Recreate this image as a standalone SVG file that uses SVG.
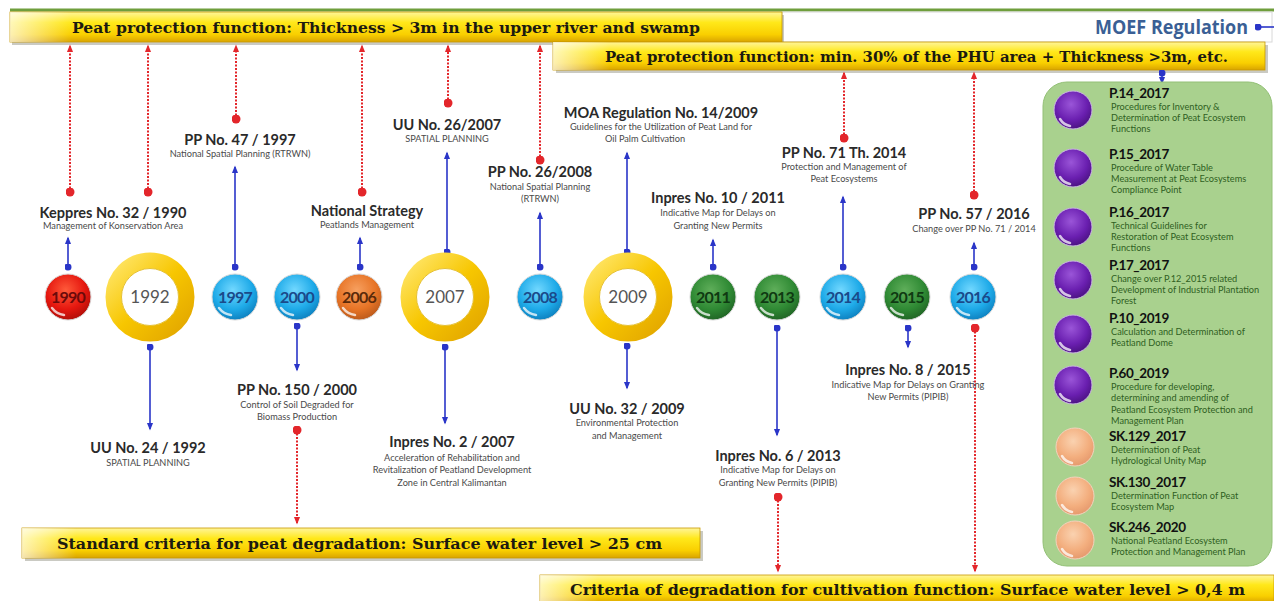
<svg xmlns="http://www.w3.org/2000/svg" width="1274" height="601" viewBox="0 0 1274 601">
<style>
.bt{font-family:"DejaVu Serif","Liberation Serif",serif;font-weight:bold;font-size:14px;fill:#1c1a10}
.yr{font-family:Lato,"Open Sans",sans-serif;font-size:16px;font-weight:bold;text-anchor:middle;letter-spacing:-0.8px}
.yr2{font-family:Lato,"Open Sans",sans-serif;font-size:17px;text-anchor:middle;fill:#555}
.t{font-family:Lato,"Liberation Sans",sans-serif;font-weight:bold;font-size:14.5px;fill:#2a2a2a;text-anchor:middle}
.s{font-family:Lato,"Liberation Sans",sans-serif;font-size:9.2px;fill:#4a4a4a;text-anchor:middle}
.pt{font-family:Lato,"Liberation Sans",sans-serif;font-weight:bold;font-size:13.5px;fill:#111;letter-spacing:-0.4px}
.ps{font-family:Lato,"Liberation Sans",sans-serif;font-size:9.2px;fill:#2f5f22}
.red{stroke:#e3262b;stroke-width:2;stroke-dasharray:2 1.5;fill:none;marker-start:url(#rDot);marker-end:url(#rArr)}
.blue{stroke:#2a35c8;stroke-width:1.6;fill:none;marker-start:url(#bDot);marker-end:url(#bArr)}
.shadow{fill:#8a8a7a;opacity:0.45}
.banner{fill:url(#gBanner);stroke:#c89a00;stroke-width:0.8}
.hl{fill:none;stroke:#fff;stroke-width:2.5;stroke-linecap:round;opacity:0.75}
.ring{fill:none;stroke:url(#gRing);stroke-width:16}
.rin{fill:#fff;stroke:#e6c030;stroke-width:1}
</style>
<defs>
<linearGradient id="gBanner" x1="0" y1="0" x2="0" y2="1">
<stop offset="0" stop-color="#fff59a"/><stop offset="0.35" stop-color="#ffe81a"/><stop offset="0.75" stop-color="#f9cf00"/><stop offset="1" stop-color="#d9a400"/>
</linearGradient>
<linearGradient id="gLeft" x1="0" y1="0" x2="1" y2="0">
<stop offset="0" stop-color="#fff" stop-opacity="0.7"/><stop offset="0.08" stop-color="#fff" stop-opacity="0"/>
</linearGradient>
<linearGradient id="gRing" x1="0" y1="0" x2="1" y2="1">
<stop offset="0" stop-color="#ffe66a"/><stop offset="0.5" stop-color="#f7c600"/><stop offset="1" stop-color="#e2a600"/>
</linearGradient>
<radialGradient id="gRed" cx="0.45" cy="0.35" r="0.7"><stop offset="0" stop-color="#ff5a3a"/><stop offset="0.6" stop-color="#e5170f"/><stop offset="1" stop-color="#a80d08"/></radialGradient>
<radialGradient id="gBlue" cx="0.45" cy="0.35" r="0.7"><stop offset="0" stop-color="#72d8ff"/><stop offset="0.6" stop-color="#1eaae8"/><stop offset="1" stop-color="#0b79b8"/></radialGradient>
<radialGradient id="gGreen" cx="0.45" cy="0.35" r="0.7"><stop offset="0" stop-color="#5fae5a"/><stop offset="0.6" stop-color="#2f8a34"/><stop offset="1" stop-color="#1e5e22"/></radialGradient>
<radialGradient id="gOrange" cx="0.45" cy="0.35" r="0.7"><stop offset="0" stop-color="#f7a060"/><stop offset="0.6" stop-color="#e77426"/><stop offset="1" stop-color="#b4561a"/></radialGradient>
<radialGradient id="gPurple" cx="0.45" cy="0.35" r="0.7"><stop offset="0" stop-color="#9a55d8"/><stop offset="0.6" stop-color="#6a1fb0"/><stop offset="1" stop-color="#46107a"/></radialGradient>
<radialGradient id="gPeach" cx="0.45" cy="0.35" r="0.7"><stop offset="0" stop-color="#fad2b0"/><stop offset="0.6" stop-color="#f3ae7e"/><stop offset="1" stop-color="#e3956a"/></radialGradient>
<marker id="bArr" viewBox="0 0 10 10" refX="8" refY="5" markerWidth="8" markerHeight="8" orient="auto" markerUnits="userSpaceOnUse"><path d="M0,1 L10,5 L0,9 z" fill="#2a35c8"/></marker>
<marker id="bDot" viewBox="0 0 10 10" refX="5" refY="5" markerWidth="7" markerHeight="7" markerUnits="userSpaceOnUse"><circle cx="5" cy="5" r="5" fill="#2a35c8"/></marker>
<marker id="rArr" viewBox="0 0 10 10" refX="8" refY="5" markerWidth="8" markerHeight="8" orient="auto" markerUnits="userSpaceOnUse"><path d="M0,1 L10,5 L0,9 z" fill="#e3262b"/></marker>
<marker id="rDot" viewBox="0 0 10 10" refX="5" refY="5" markerWidth="9" markerHeight="9" markerUnits="userSpaceOnUse"><circle cx="5" cy="5" r="5" fill="#e3262b"/></marker>
</defs>
<rect width="1274" height="601" fill="#fff"/>

<g id="header">
<line x1="10" y1="10" x2="1274" y2="10" stroke="#6f9e3c" stroke-width="3"/>
<rect x="782" y="12" width="490" height="30" fill="#fff" stroke="#d8d8d8" stroke-width="1"/>
<text x="1095" y="34" font-family="'Open Sans',Lato,sans-serif" font-weight="bold" font-size="20" fill="#3a5f95" textLength="153" lengthAdjust="spacingAndGlyphs">MOEF Regulation</text>
</g>

<g id="banner-top1">
<rect class="shadow" x="12" y="15" width="772" height="30"/>
<rect class="banner" x="10" y="12" width="772" height="30"/>
<rect x="10" y="12" width="772" height="30" fill="url(#gLeft)"/>
<text class="bt" x="72" y="33" textLength="628" lengthAdjust="spacingAndGlyphs">Peat protection function: Thickness &gt; 3m in the upper river and swamp</text>
</g>
<g id="banner-top2">
<rect class="shadow" x="556" y="45" width="712" height="28"/>
<rect class="banner" x="553" y="42" width="712" height="28"/>
<rect x="553" y="42" width="712" height="28" fill="url(#gLeft)"/>
<text class="bt" x="605" y="62" textLength="623" lengthAdjust="spacingAndGlyphs">Peat protection function: min. 30% of the PHU area + Thickness &gt;3m, etc.</text>
</g>
<g id="banner-bottom1">
<rect class="shadow" x="25" y="531" width="678" height="30"/>
<rect class="banner" x="22" y="528" width="678" height="30"/>
<rect x="22" y="528" width="678" height="30" fill="url(#gLeft)"/>
<text class="bt" x="57" y="549" textLength="605" lengthAdjust="spacingAndGlyphs">Standard criteria for peat degradation: Surface water level &gt; 25 cm</text>
</g>
<g id="banner-bottom2">
<rect class="banner" x="540" y="575" width="734" height="28"/>
<rect x="540" y="575" width="734" height="28" fill="url(#gLeft)"/>
<text class="bt" x="570" y="595" textLength="675" lengthAdjust="spacingAndGlyphs">Criteria of degradation for cultivation function: Surface water level &gt; 0,4 m</text>
</g>

<g id="connectors">
<line class="red" x1="70" y1="192" x2="70" y2="46"/>
<line class="red" x1="148" y1="192" x2="148" y2="46"/>
<line class="red" x1="236" y1="119" x2="236" y2="46"/>
<line class="red" x1="362" y1="192" x2="362" y2="46"/>
<line class="red" x1="448" y1="103" x2="448" y2="46"/>
<line class="red" x1="540" y1="160" x2="540" y2="46"/>
<line class="red" x1="844" y1="138" x2="844" y2="73"/>
<line class="red" x1="974" y1="195" x2="974" y2="73"/>
<line class="red" x1="297" y1="430" x2="297" y2="523"/>
<line class="red" x1="778" y1="497" x2="778" y2="571"/>
<line class="red" x1="975" y1="328" x2="975" y2="571"/>
<line class="blue" x1="68" y1="267" x2="68" y2="238"/>
<line class="blue" x1="235" y1="267" x2="235" y2="167"/>
<line class="blue" x1="360" y1="267" x2="360" y2="238"/>
<line class="blue" x1="447" y1="252" x2="447" y2="153"/>
<line class="blue" x1="540" y1="267" x2="540" y2="213"/>
<line class="blue" x1="627" y1="252" x2="627" y2="153"/>
<line class="blue" x1="713" y1="267" x2="713" y2="240"/>
<line class="blue" x1="843" y1="267" x2="843" y2="197"/>
<line class="blue" x1="974" y1="267" x2="974" y2="243"/>
<line class="blue" x1="150" y1="347" x2="150" y2="429"/>
<line class="blue" x1="297" y1="326" x2="297" y2="370"/>
<line class="blue" x1="445" y1="347" x2="445" y2="423"/>
<line class="blue" x1="627" y1="346" x2="627" y2="388"/>
<line class="blue" x1="777" y1="328" x2="777" y2="435"/>
<line class="blue" x1="908" y1="328" x2="908" y2="347"/>
<line class="blue" x1="1162" y1="73" x2="1162" y2="83"/>
<line x1="1258" y1="27" x2="1274" y2="27" stroke="#2a35c8" stroke-width="1.6" marker-start="url(#bDot)"/>
</g>

<g id="y1990"><circle cx="68" cy="297" r="23" fill="url(#gRed)" stroke="#d8d8d8"/><path class="hl" d="M52,308 A18,18 0 0 0 64,315"/><text class="yr" x="68" y="303" fill="#6a0a0a">1990</text></g>
<g id="y1992"><circle class="ring" cx="150" cy="297" r="36.5"/><circle class="rin" cx="150" cy="297" r="28.5"/><text class="yr2" x="150" y="303">1992</text></g>
<g id="y1997"><circle cx="235" cy="297" r="23" fill="url(#gBlue)" stroke="#d8d8d8"/><path class="hl" d="M219,308 A18,18 0 0 0 231,315"/><text class="yr" x="235" y="303" fill="#1a4a8a">1997</text></g>
<g id="y2000"><circle cx="297" cy="297" r="23" fill="url(#gBlue)" stroke="#d8d8d8"/><path class="hl" d="M281,308 A18,18 0 0 0 293,315"/><text class="yr" x="297" y="303" fill="#1a4a8a">2000</text></g>
<g id="y2006"><circle cx="359" cy="297" r="23" fill="url(#gOrange)" stroke="#d8d8d8"/><path class="hl" d="M343,308 A18,18 0 0 0 355,315"/><text class="yr" x="359" y="303" fill="#5a2a0a">2006</text></g>
<g id="y2007"><circle class="ring" cx="445" cy="297" r="36.5"/><circle class="rin" cx="445" cy="297" r="28.5"/><text class="yr2" x="445" y="303">2007</text></g>
<g id="y2008"><circle cx="540" cy="297" r="23" fill="url(#gBlue)" stroke="#d8d8d8"/><path class="hl" d="M524,308 A18,18 0 0 0 536,315"/><text class="yr" x="540" y="303" fill="#1a4a8a">2008</text></g>
<g id="y2009"><circle class="ring" cx="628" cy="297" r="36.5"/><circle class="rin" cx="628" cy="297" r="28.5"/><text class="yr2" x="628" y="303">2009</text></g>
<g id="y2011"><circle cx="713" cy="297" r="23" fill="url(#gGreen)" stroke="#d8d8d8"/><path class="hl" d="M697,308 A18,18 0 0 0 709,315"/><text class="yr" x="713" y="303" fill="#0f3a12">2011</text></g>
<g id="y2013"><circle cx="777" cy="297" r="23" fill="url(#gGreen)" stroke="#d8d8d8"/><path class="hl" d="M761,308 A18,18 0 0 0 773,315"/><text class="yr" x="777" y="303" fill="#0f3a12">2013</text></g>
<g id="y2014"><circle cx="843" cy="297" r="23" fill="url(#gBlue)" stroke="#d8d8d8"/><path class="hl" d="M827,308 A18,18 0 0 0 839,315"/><text class="yr" x="843" y="303" fill="#1a4a8a">2014</text></g>
<g id="y2015"><circle cx="907" cy="297" r="23" fill="url(#gGreen)" stroke="#d8d8d8"/><path class="hl" d="M891,308 A18,18 0 0 0 903,315"/><text class="yr" x="907" y="303" fill="#0f3a12">2015</text></g>
<g id="y2016"><circle cx="973" cy="297" r="23" fill="url(#gBlue)" stroke="#d8d8d8"/><path class="hl" d="M957,308 A18,18 0 0 0 969,315"/><text class="yr" x="973" y="303" fill="#1a4a8a">2016</text></g>

<g id="keppres32"><text class="t" x="113" y="218">Keppres No. 32 / 1990</text><text class="s" x="113" y="229">Management of Konservation Area</text></g>
<g id="pp47"><text class="t" x="240" y="145">PP No. 47 / 1997</text><text class="s" x="240" y="157">National Spatial Planning (RTRWN)</text></g>
<g id="natstrategy"><text class="t" x="367" y="216">National Strategy</text><text class="s" x="367" y="228">Peatlands Management</text></g>
<g id="uu26"><text class="t" x="447" y="130">UU No. 26/2007</text><text class="s" x="447" y="142">SPATIAL PLANNING</text></g>
<g id="pp26"><text class="t" x="540" y="177">PP No. 26/2008</text><text class="s" x="540" y="190">National Spatial Planning</text><text class="s" x="540" y="202">(RTRWN)</text></g>
<g id="moa14"><text class="t" x="661" y="118">MOA Regulation No. 14/2009</text><text class="s" x="661" y="130">Guidelines for the Utilization of Peat Land for</text><text class="s" x="645" y="142">Oil Palm Cultivation</text></g>
<g id="inpres10"><text class="t" x="718" y="203">Inpres No. 10 / 2011</text><text class="s" x="718" y="216">Indicative Map for Delays on</text><text class="s" x="718" y="229">Granting New Permits</text></g>
<g id="pp71"><text class="t" x="844" y="158">PP No. 71 Th. 2014</text><text class="s" x="844" y="170">Protection and Management of</text><text class="s" x="844" y="182">Peat Ecosystems</text></g>
<g id="pp57"><text class="t" x="974" y="219">PP No. 57 / 2016</text><text class="s" x="974" y="232">Change over PP No. 71 / 2014</text></g>

<g id="uu24"><text class="t" x="148" y="453">UU No. 24 / 1992</text><text class="s" x="148" y="466">SPATIAL PLANNING</text></g>
<g id="pp150"><text class="t" x="297" y="395">PP No. 150 / 2000</text><text class="s" x="297" y="408">Control of Soil Degraded for</text><text class="s" x="297" y="420">Biomass Production</text></g>
<g id="inpres2"><text class="t" x="452" y="447">Inpres No. 2 / 2007</text><text class="s" x="452" y="461">Acceleration of Rehabilitation and</text><text class="s" x="452" y="473">Revitalization of Peatland Development</text><text class="s" x="452" y="486">Zone in Central Kalimantan</text></g>
<g id="uu32"><text class="t" x="627" y="414">UU No. 32 / 2009</text><text class="s" x="627" y="426">Environmental Protection</text><text class="s" x="627" y="439">and Management</text></g>
<g id="inpres6"><text class="t" x="778" y="461">Inpres No. 6 / 2013</text><text class="s" x="778" y="473">Indicative Map for Delays on</text><text class="s" x="778" y="486">Granting New Permits (PIPIB)</text></g>
<g id="inpres8"><text class="t" x="908" y="375">Inpres No. 8 / 2015</text><text class="s" x="908" y="388">Indicative Map for Delays on Granting</text><text class="s" x="908" y="400">New Permits (PIPIB)</text></g>

<g id="moef-panel">
<rect x="1043" y="82" width="229" height="484" rx="24" fill="#a9d18e" stroke="#93c076" stroke-width="1"/>
</g>
<g id="p14"><circle cx="1073" cy="110" r="19" fill="url(#gPurple)" stroke="#c9b6e0"/><path class="hl" d="M1060,119 A15,15 0 0 0 1070,126"/><text class="pt" x="1109" y="98">P.14_2017</text><text class="ps" x="1111" y="110">Procedures for Inventory &amp;</text><text class="ps" x="1111" y="121">Determination of Peat Ecosystem</text><text class="ps" x="1111" y="132">Functions</text></g>
<g id="p15"><circle cx="1073" cy="168" r="19" fill="url(#gPurple)" stroke="#c9b6e0"/><path class="hl" d="M1060,177 A15,15 0 0 0 1070,184"/><text class="pt" x="1109" y="159">P.15_2017</text><text class="ps" x="1111" y="171">Procedure of Water Table</text><text class="ps" x="1111" y="182">Measurement at Peat Ecosystems</text><text class="ps" x="1111" y="193">Compliance Point</text></g>
<g id="p16"><circle cx="1073" cy="227" r="19" fill="url(#gPurple)" stroke="#c9b6e0"/><path class="hl" d="M1060,236 A15,15 0 0 0 1070,243"/><text class="pt" x="1109" y="217">P.16_2017</text><text class="ps" x="1111" y="229">Technical Guidelines for</text><text class="ps" x="1111" y="240">Restoration of Peat Ecosystem</text><text class="ps" x="1111" y="251">Functions</text></g>
<g id="p17"><circle cx="1073" cy="280" r="19" fill="url(#gPurple)" stroke="#c9b6e0"/><path class="hl" d="M1060,289 A15,15 0 0 0 1070,296"/><text class="pt" x="1109" y="270">P.17_2017</text><text class="ps" x="1111" y="282">Change over P.12_2015 related</text><text class="ps" x="1111" y="293">Development of Industrial Plantation</text><text class="ps" x="1111" y="304">Forest</text></g>
<g id="p10"><circle cx="1073" cy="334" r="19" fill="url(#gPurple)" stroke="#c9b6e0"/><path class="hl" d="M1060,343 A15,15 0 0 0 1070,350"/><text class="pt" x="1109" y="323">P.10_2019</text><text class="ps" x="1111" y="335">Calculation and Determination of</text><text class="ps" x="1111" y="346">Peatland Dome</text></g>
<g id="p60"><circle cx="1073" cy="385" r="19" fill="url(#gPurple)" stroke="#c9b6e0"/><path class="hl" d="M1060,394 A15,15 0 0 0 1070,401"/><text class="pt" x="1109" y="378">P.60_2019</text><text class="ps" x="1111" y="390">Procedure for developing,</text><text class="ps" x="1111" y="401">determining and amending of</text><text class="ps" x="1111" y="413">Peatland Ecosystem Protection and</text><text class="ps" x="1111" y="424">Management Plan</text></g>
<g id="sk129"><circle cx="1075" cy="447" r="19" fill="url(#gPeach)" stroke="#f1d3bd"/><path class="hl" d="M1062,456 A15,15 0 0 0 1072,463"/><text class="pt" x="1109" y="441">SK.129_2017</text><text class="ps" x="1111" y="453">Determination of Peat</text><text class="ps" x="1111" y="464">Hydrological Unity Map</text></g>
<g id="sk130"><circle cx="1075" cy="496" r="19" fill="url(#gPeach)" stroke="#f1d3bd"/><path class="hl" d="M1062,505 A15,15 0 0 0 1072,512"/><text class="pt" x="1109" y="487">SK.130_2017</text><text class="ps" x="1111" y="499">Determination Function of Peat</text><text class="ps" x="1111" y="510">Ecosystem Map</text></g>
<g id="sk246"><circle cx="1075" cy="540" r="19" fill="url(#gPeach)" stroke="#f1d3bd"/><path class="hl" d="M1062,549 A15,15 0 0 0 1072,556"/><text class="pt" x="1109" y="532">SK.246_2020</text><text class="ps" x="1111" y="544">National Peatland Ecosystem</text><text class="ps" x="1111" y="555">Protection and Management Plan</text></g>
</svg>
